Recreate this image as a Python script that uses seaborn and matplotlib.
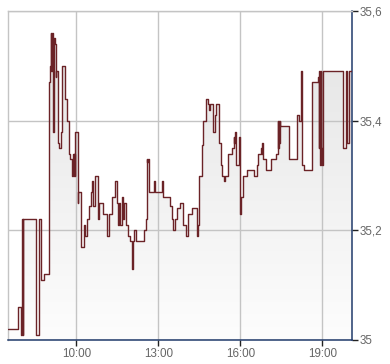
import numpy as np
import pandas as pd
import matplotlib
matplotlib.use("Agg")
import matplotlib.pyplot as plt
import seaborn as sns

# minutes since midnight, price (step-post)
minutes = [450, 473, 479, 481, 482, 483, 512, 518, 523, 529,
           539, 542, 544, 545, 546, 548, 549, 551, 553, 555,
           556, 560, 562, 567, 569, 575, 580, 583, 586, 591,
           593, 594, 595, 596, 598, 603, 604, 611, 616, 620,
           624, 627, 632, 635, 637, 640, 647, 650, 658, 667,
           672, 679, 685, 689, 691, 694, 696, 700, 702, 705,
           708, 714, 718, 722, 724, 727, 731, 749, 752, 754,
           755, 757, 760, 771, 773, 789, 791, 806, 809, 813,
           817, 820, 828, 833, 840, 846, 853, 864, 866, 869,
           875, 878, 884, 890, 892, 894, 899, 904, 907, 912,
           917, 920, 923, 926, 932, 942, 946, 947, 948, 950,
           958, 959, 961, 965, 975, 990, 996, 999, 1006, 1007,
           1008, 1010, 1016, 1027, 1038, 1042, 1043, 1044, 1045, 1046,
           1047, 1067, 1085, 1089, 1092, 1096, 1100, 1117, 1131, 1132,
           1133, 1135, 1136, 1137, 1139, 1142, 1186, 1192, 1194, 1199,
           1205]
prices = [35.02, 35.06, 35.01, 35.22, 35.01, 35.22, 35.01, 35.22, 35.11, 35.12,
          35.47, 35.50, 35.56, 35.49, 35.56, 35.46, 35.38, 35.55, 35.54, 35.48,
          35.49, 35.36, 35.35, 35.38, 35.50, 35.44, 35.40, 35.34, 35.33, 35.30,
          35.34, 35.30, 35.34, 35.30, 35.38, 35.25, 35.27, 35.17, 35.21, 35.19,
          35.22, 35.245, 35.27, 35.29, 35.245, 35.30, 35.22, 35.25, 35.23, 35.19,
          35.23, 35.26, 35.29, 35.25, 35.21, 35.25, 35.21, 35.26, 35.22, 35.25,
          35.21, 35.19, 35.18, 35.13, 35.18, 35.20, 35.18, 35.20, 35.22, 35.33,
          35.325, 35.33, 35.27, 35.29, 35.27, 35.29, 35.26, 35.245, 35.22, 35.20,
          35.22, 35.24, 35.25, 35.21, 35.19, 35.23, 35.24, 35.19, 35.21, 35.30,
          35.355, 35.40, 35.44, 35.43, 35.42, 35.43, 35.38, 35.41, 35.43, 35.36,
          35.32, 35.30, 35.29, 35.30, 35.34, 35.35, 35.37, 35.36, 35.38, 35.32,
          35.37, 35.23, 35.26, 35.30, 35.31, 35.30, 35.32, 35.34, 35.35, 35.34,
          35.36, 35.33, 35.31, 35.33, 35.34, 35.40, 35.35, 35.40, 35.36, 35.40,
          35.39, 35.33, 35.41, 35.40, 35.49, 35.32, 35.31, 35.47, 35.48, 35.35,
          35.49, 35.32, 35.49, 35.35, 35.32, 35.49, 35.35, 35.49, 35.36, 35.49,
          35.49]

x_ticks = [600, 780, 960, 1140]
x_tick_labels = ["10:00", "13:00", "16:00", "19:00"]
y_ticks = [35.0, 35.2, 35.4, 35.6]
y_tick_labels = ["35", "35,2", "35,4", "35,6"]

df = pd.DataFrame({"minute": minutes, "price": prices})

sns.set_style("white")
plt.rcParams["font.family"] = ["Liberation Sans", "DejaVu Sans"]

fig = plt.figure(figsize=(3.9, 3.64), dpi=100)
ax = fig.add_axes([8 / 390, 1 - 340 / 364, 344 / 390, 329 / 364])

x0, x1 = 450, 1205
y0, y1 = 35.0, 35.6

# gradient fill under step line
coll = ax.fill_between(df["minute"], df["price"], y0, step="post",
                       facecolor="none", edgecolor="none")
grad = np.linspace(0, 1, 256).reshape(-1, 1)
cmap = matplotlib.colors.LinearSegmentedColormap.from_list(
    "g", ["#fdfdfd", "#e3e3e3"])
im = ax.imshow(grad, extent=[x0, x1, y0, y1], origin="lower",
               aspect="auto", cmap=cmap, zorder=0.8)
im.set_clip_path(coll.get_paths()[0], transform=ax.transData)

sns.lineplot(data=df, x="minute", y="price", ax=ax, estimator=None,
             sort=False, drawstyle="steps-post", color="#6b2327",
             linewidth=1.0, zorder=3)

ax.set_xlim(x0, x1)
ax.set_ylim(y0, y1)
ax.set_xlabel("")
ax.set_ylabel("")

ax.set_xticks(x_ticks)
ax.set_xticklabels(x_tick_labels)
ax.set_yticks(y_ticks)
ax.set_yticklabels(y_tick_labels)
ax.yaxis.tick_right()

ax.set_axisbelow("line")
ax.grid(True, color="#c4c4c4", linewidth=1.0)

navy = "#213b6b"
for s in ["right", "bottom"]:
    ax.spines[s].set_color(navy)
    ax.spines[s].set_linewidth(1.1)
for s in ["left", "top"]:
    ax.spines[s].set_color("#c4c4c4")
    ax.spines[s].set_linewidth(1.0)

ax.tick_params(axis="both", which="both", direction="out", length=4,
               width=1, color="#222222", labelcolor="#666666",
               labelsize=8.4, pad=1.5)
ax.tick_params(axis="y", right=True, left=False, labelright=True,
               labelleft=False)
ax.tick_params(axis="x", bottom=True, pad=2)

fig.savefig("out.png", dpi=100)
